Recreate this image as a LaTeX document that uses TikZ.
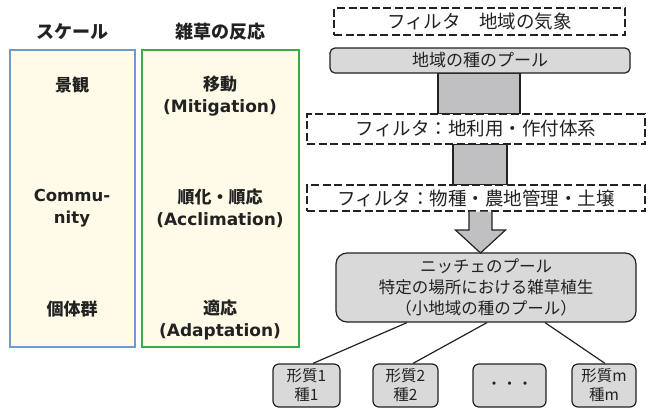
\documentclass[tikz,border=0pt]{standalone}
\usepackage{fontspec}
\setmainfont{Noto Sans CJK JP}
\newfontfamily\lat{DejaVu Sans}
\definecolor{beige}{HTML}{FFFBE8}
\definecolor{bluebd}{HTML}{6A9BD1}
\definecolor{greenbd}{HTML}{3AAA4A}
\definecolor{txt}{HTML}{222222}
\definecolor{lgray}{HTML}{D9D9D9}
\definecolor{mgray}{HTML}{C0C0C2}
\begin{document}
\begin{tikzpicture}[x=1pt,y=-1pt,
  colbox/.style={draw, line width=1.4pt, fill=beige, inner sep=0pt},
  head/.style={font=\fontsize{18}{20}\selectfont\bfseries, text=txt, inner sep=0pt},
  lbl/.style={font=\fontsize{17}{22}\selectfont\bfseries, text=txt, inner sep=0pt, align=center},
  filt/.style={draw=txt, line width=1.8pt, dash pattern=on 8pt off 3.5pt, fill=white, inner sep=0pt,
     font=\fontsize{18.5}{20}\selectfont, text=txt},
  pool/.style={draw=txt, line width=1.2pt, fill=lgray, rounded corners=5pt, inner sep=0pt,
     font=\fontsize{17}{20}\selectfont, text=txt, align=center},
  connbox/.style={draw=txt, line width=1.2pt, fill=mgray, inner sep=0pt},
  leaf/.style={draw=txt, line width=1.2pt, fill=lgray, rounded corners=6pt, inner sep=0pt,
     minimum height=43pt, font=\fontsize{15.5}{19}\selectfont, text=txt, align=center},
  link/.style={draw=txt, line width=1.2pt}
]
\useasboundingbox (0,0) rectangle (651,408);

% left columns
\node[colbox, draw=bluebd, minimum width=125pt, minimum height=297pt] (scalebox) at (72.5,198.5) {};
\node[colbox, draw=greenbd, minimum width=157pt, minimum height=297pt] (respbox) at (220.5,198.5) {};
\node[head] (h1) at (72,32) {スケール};
\node[head] (h2) at (220,32) {雑草の反応};

\node[lbl] (s1) at (72,85) {景観};
\node[lbl, font=\fontsize{16.5}{22}\selectfont\lat\bfseries] (s2) at (72,208) {Commu-\\nity};
\node[lbl] (s3) at (72,309) {個体群};

\node[lbl] (r1) at (220,96) {移動\\{\lat (Mitigation)}};
\node[lbl] (r2) at (220,208) {順化・順応\\{\lat (Acclimation)}};
\node[lbl] (r3) at (220,320) {適応\\{\lat (Adaptation)}};

% right flow
\node[connbox, minimum width=82pt, minimum height=41pt] (c1) at (479,93.5) {};
\node[connbox, minimum width=54pt, minimum height=41pt] (c2) at (480,164.5) {};

\node[filt, minimum width=291pt, minimum height=27pt] (f1) at (479.5,21.5) {フィルタ　地域の気象};
\node[pool, minimum width=300pt, minimum height=25pt] (rp) at (480,60.5) {地域の種のプール};
\node[filt, minimum width=338pt, minimum height=30pt] (f2) at (476,129) {フィルタ：地利用・作付体系};
\node[filt, minimum width=338pt, minimum height=26pt] (f3) at (476,198) {フィルタ：物種・農地管理・土壌};

\node[pool, rounded corners=11pt, minimum width=300pt, minimum height=69pt,
  font=\fontsize{16.5}{21}\selectfont] (niche) at (486,287.5)
  {ニッチェのプール\\特定の場所における雑草植生\\（小地域の種のプール）};

\coordinate (atop) at (480.5,211.5);
\coordinate (atip) at (480.5,253);
\draw[draw=txt, line width=1.2pt, fill=mgray, line join=miter]
  ([xshift=-11.5pt]atop) -- ([xshift=-11.5pt,yshift=-18.5pt]atop) -- ([xshift=-25pt,yshift=-18.5pt]atop)
  -- (atip) -- ([xshift=25pt,yshift=-18.5pt]atop) -- ([xshift=11.5pt,yshift=-18.5pt]atop)
  -- ([xshift=11.5pt]atop);

\node[leaf, minimum width=67pt] (b1) at (306.5,385.5) {形質1\\種1};
\node[leaf, minimum width=65pt] (b2) at (405.5,385.5) {形質2\\種2};
\node[leaf, minimum width=73pt] (b3) at (509.5,385.5) {・・・};
\node[leaf, minimum width=64pt] (b4) at (604,385.5) {形質m\\種m};

\draw[link] ([xshift=-79pt]niche.south) -- ([xshift=6.5pt]b1.north);
\draw[link] ([xshift=1pt]niche.south) -- ([xshift=7.5pt]b2.north);
\draw[link] ([xshift=59pt]niche.south) -- ([xshift=1pt]b4.north);
\end{tikzpicture}
\end{document}
